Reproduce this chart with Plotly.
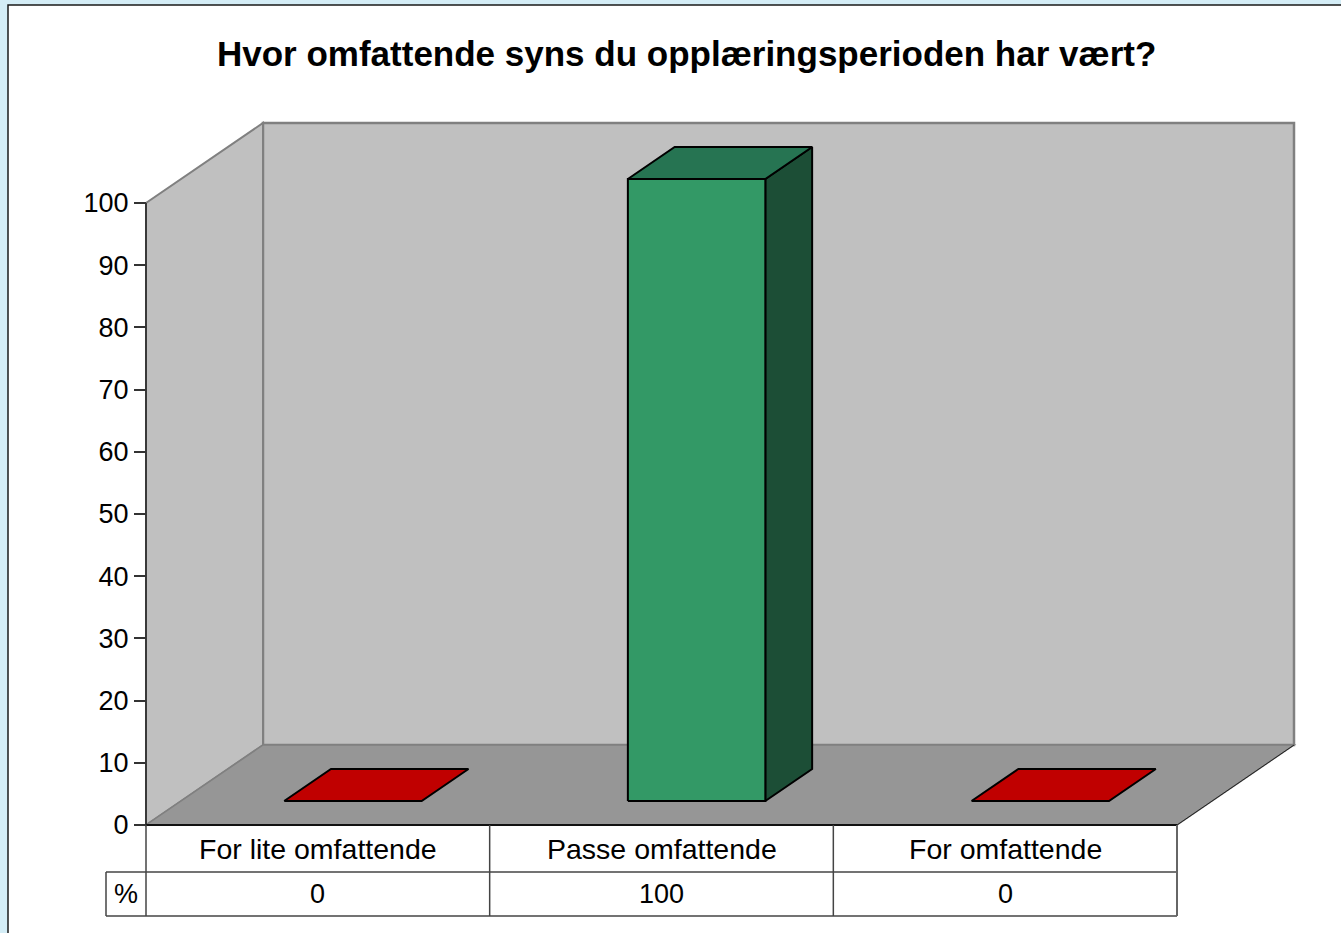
import plotly.graph_objects as go

# ---------------- data ----------------
title_text = "Hvor omfattende syns du opplæringsperioden har vært?"
categories = ["For lite omfattende", "Passe omfattende", "For omfattende"]
values = [0, 100, 0]
series_name = "%"
y_ticks = [0, 10, 20, 30, 40, 50, 60, 70, 80, 90, 100]
y_max = 100

# ---------------- style / geometry ----------------
W, H = 1341, 933
X0PX, Y0PX = 146.0, 825.0          # pixel of front-left floor corner
UX = (1177.0 - 146.0) / len(categories)  # px per category
UY = (825.0 - 203.0) / y_max             # px per value unit
DX = 117.0 / UX                     # depth offset (x, in category units)
DY = 80.0 / UY                      # depth offset (y, in value units)
D0, D1 = 0.3, 0.7                   # bar depth span (fraction)
BW = 0.4                            # bar width (category units)
FONT = "Liberation Sans, Arial, Helvetica, sans-serif"

front_colors = ["#c00000", "#339966", "#c00000"]
top_colors = ["#c00000", "#267452", "#c00000"]
side_colors = ["#8a0000", "#1c4e36", "#8a0000"]


def px2x(p):
    return (p - X0PX) / UX


def px2y(p):
    return (Y0PX - p) / UY


n = len(categories)
fig = go.Figure()

# ---- background: light-blue page + white chart area ----
shapes = [
    dict(type="rect", xref="paper", yref="paper", x0=8 / W, x1=1.02, y0=-0.02, y1=1 - 5 / H,
         fillcolor="white", line=dict(color="#1a1a1a", width=1.5), layer="below"),
]

# ---- walls and floor ----
def poly(pts):
    return "M " + " L ".join(f"{x},{y}" for x, y in pts) + " Z"

back_wall = [(DX, DY), (n + DX, DY), (n + DX, y_max + DY), (DX, y_max + DY)]
left_wall = [(0, 0), (DX, DY), (DX, y_max + DY), (0, y_max)]
floor = [(0, 0), (n, 0), (n + DX, DY), (DX, DY)]
shapes += [
    dict(type="path", xref="x", yref="y", path=poly(back_wall), fillcolor="#c0c0c0",
         line=dict(color="#808080", width=2.5), layer="below"),
    dict(type="path", xref="x", yref="y", path=poly(left_wall), fillcolor="#c0c0c0",
         line=dict(color="#808080", width=2), layer="below"),
    dict(type="path", xref="x", yref="y", path=poly(floor), fillcolor="#969696",
         line=dict(color="#808080", width=1.5), layer="below"),
    # floor front and right edges (dark)
    dict(type="line", xref="x", yref="y", x0=0, y0=0, x1=n, y1=0,
         line=dict(color="#111111", width=2), layer="below"),
    dict(type="line", xref="x", yref="y", x0=n, y0=0, x1=n + DX, y1=DY,
         line=dict(color="#222222", width=1), layer="below"),
    # front-left vertical axis edge
    dict(type="line", xref="x", yref="y", x0=0, y0=0, x1=0, y1=y_max,
         line=dict(color="#222222", width=1.5), layer="below"),
]

# ---- bars (pseudo 3D) ----
for i, v in enumerate(values):
    c = i + 0.5
    xl, xr = c - BW / 2, c + BW / 2
    fx0, fy0 = D0 * DX, D0 * DY
    bx0, by0 = D1 * DX, D1 * DY
    side = [(xr + fx0, fy0), (xr + bx0, by0), (xr + bx0, v + by0), (xr + fx0, v + fy0)]
    front = [(xl + fx0, fy0), (xr + fx0, fy0), (xr + fx0, v + fy0), (xl + fx0, v + fy0)]
    top = [(xl + fx0, v + fy0), (xr + fx0, v + fy0), (xr + bx0, v + by0), (xl + bx0, v + by0)]
    faces = [(side, side_colors[i]), (front, front_colors[i]), (top, top_colors[i])] if v > 0 else [(top, top_colors[i])]
    for pts, col in faces:
        xs = [p[0] for p in pts] + [pts[0][0]]
        ys = [p[1] for p in pts] + [pts[0][1]]
        fig.add_trace(go.Scatter(x=xs, y=ys, mode="lines", fill="toself", fillcolor=col,
                                 line=dict(color="black", width=2), hoverinfo="skip",
                                 showlegend=False))

# ---- data table ----
r1_top, r1_bot, r2_bot = 825.0, 872.0, 916.0
hdr_left = 106.0
tcol = "#444444"
tw = 1.5
shapes += [
    dict(type="line", xref="x", yref="y", x0=0, x1=n, y0=px2y(r1_bot), y1=px2y(r1_bot),
         line=dict(color=tcol, width=tw)),
    dict(type="line", xref="x", yref="y", x0=px2x(hdr_left), x1=0, y0=px2y(r1_bot), y1=px2y(r1_bot),
         line=dict(color=tcol, width=tw)),
    dict(type="line", xref="x", yref="y", x0=px2x(hdr_left), x1=n, y0=px2y(r2_bot), y1=px2y(r2_bot),
         line=dict(color=tcol, width=tw)),
    dict(type="line", xref="x", yref="y", x0=px2x(hdr_left), x1=px2x(hdr_left), y0=px2y(r1_bot), y1=px2y(r2_bot),
         line=dict(color=tcol, width=tw)),
]
for k in range(n + 1):
    shapes.append(dict(type="line", xref="x", yref="y", x0=k, x1=k, y0=0, y1=px2y(r2_bot),
                       line=dict(color=tcol if k < n else "#666666", width=tw if k < n else 2)))

annotations = []
for i, (cat, v) in enumerate(zip(categories, values)):
    annotations.append(dict(x=i + 0.5, y=px2y((r1_top + r1_bot) / 2), xref="x", yref="y", text=cat,
                            showarrow=False, font=dict(family=FONT, size=28.5, color="black")))
    annotations.append(dict(x=i + 0.5, y=px2y((r1_bot + r2_bot) / 2), xref="x", yref="y", text=str(v),
                            showarrow=False, font=dict(family=FONT, size=27, color="black")))
annotations.append(dict(x=px2x((hdr_left + X0PX) / 2), y=px2y((r1_bot + r2_bot) / 2), xref="x", yref="y",
                        text=series_name, showarrow=False, font=dict(family=FONT, size=27, color="black")))

# ---- title ----
annotations.append(dict(x=686 / W, y=1 - 54 / H, xref="paper", yref="paper", text=f"<b>{title_text}</b>",
                        showarrow=False, xanchor="center", yanchor="middle",
                        font=dict(family=FONT, size=35, color="black")))

fig.update_layout(
    width=W, height=H,
    margin=dict(l=0, r=0, t=0, b=0),
    paper_bgcolor="#d4edf6",
    plot_bgcolor="rgba(0,0,0,0)",
    shapes=shapes,
    annotations=annotations,
    xaxis=dict(range=[px2x(0), px2x(W)], visible=False, fixedrange=True),
    yaxis=dict(range=[px2y(H), px2y(0)], showgrid=False, zeroline=False, showline=False,
               anchor="free", position=X0PX / W, side="left",
               tickmode="array", tickvals=y_ticks, ticktext=[str(t) for t in y_ticks],
               ticks="outside", ticklen=12, tickwidth=1.5, tickcolor="#333333",
               tickfont=dict(family=FONT, size=27, color="black"), fixedrange=True),
)

fig.write_html("out.html", config={"displayModeBar": False},
               post_script="document.body.style.margin='0';document.body.style.overflow='hidden';")
